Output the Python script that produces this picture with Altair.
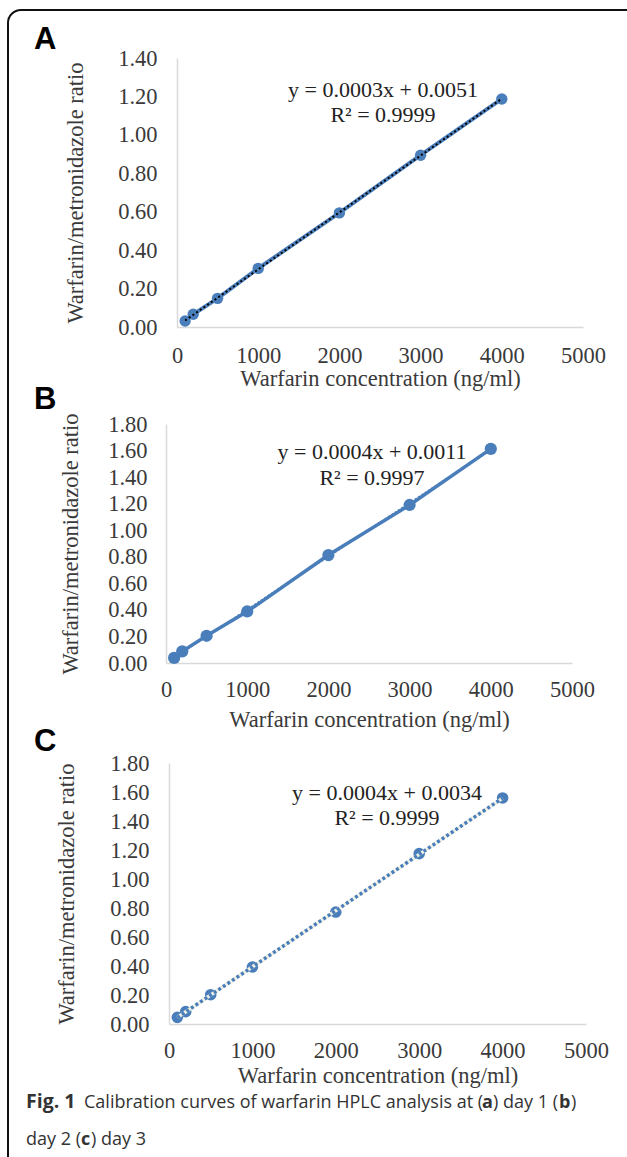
import altair as alt
import pandas as pd

# ---- data ----
conc = [100, 200, 500, 1000, 2000, 3000, 4000]
ratio_a = [0.031, 0.066, 0.149, 0.305, 0.594, 0.894, 1.187]
ratio_b = [0.038, 0.088, 0.205, 0.388, 0.813, 1.190, 1.613]
ratio_c = [0.046, 0.085, 0.202, 0.393, 0.772, 1.175, 1.559]
x_ticks = [0, 1000, 2000, 3000, 4000, 5000]
y_ticks_a = [0, 0.2, 0.4, 0.6, 0.8, 1.0, 1.2, 1.4]
y_ticks_bc = [0, 0.2, 0.4, 0.6, 0.8, 1.0, 1.2, 1.4, 1.6, 1.8]
eq_a = ["y = 0.0003x + 0.0051", "R² = 0.9999"]
eq_b = ["y = 0.0004x + 0.0011", "R² = 0.9997"]
eq_c = ["y = 0.0004x + 0.0034", "R² = 0.9999"]

W, H = 627, 1157
BLUE = "#4a7ebb"
GREY = "#3a3a3a"
SERIF = "Liberation Serif"
FS = 22.5
ONE = alt.Data(values=[{}])


def encodings(xr, yr, ymax, yticks, lab_pad_x, title_y, lab_pad_y, title_x):
    x = alt.X(
        "conc:Q",
        scale=alt.Scale(domain=[0, 5000], range=xr, nice=False, zero=False),
        axis=alt.Axis(
            orient="bottom", offset=yr[0] - H, values=x_ticks, format="d",
            grid=False, ticks=False, domainColor="#d9d9d9", domainWidth=1.5,
            labelFont=SERIF, labelFontSize=FS, labelColor=GREY,
            labelBaseline="alphabetic", labelPadding=lab_pad_x,
            labelFlush=False, labelOverlap=False,
            title="Warfarin concentration (ng/ml)", titleFont=SERIF,
            titleFontSize=FS, titleFontWeight="normal", titleColor=GREY,
            titleBaseline="alphabetic", titleY=title_y,
        ),
    )
    y = alt.Y(
        "ratio:Q",
        scale=alt.Scale(domain=[0, ymax], range=yr, nice=False, zero=False),
        axis=alt.Axis(
            orient="left", offset=-xr[0], values=yticks, format=".2f",
            grid=False, ticks=False, domainColor="#d9d9d9", domainWidth=1.5,
            labelFont=SERIF, labelFontSize=FS, labelColor=GREY,
            labelPadding=lab_pad_y, labelOverlap=False, labelFlush=False,
            title="Warfarin/metronidazole ratio", titleFont=SERIF,
            titleFontSize=FS, titleFontWeight="normal", titleColor=GREY,
            titleX=title_x - xr[0], titleY=(yr[0] + yr[1]) / 2,
            titleBaseline="middle", titleAngle=270,
        ),
    )
    return x, y


def equation(lines, cx, cy1, cy2):
    return [
        alt.Chart(ONE).mark_text(font=SERIF, fontSize=22, color="#222222",
                                 align="center", baseline="middle")
        .encode(x=alt.value(cx), y=alt.value(cy), text=alt.value(t))
        for t, cy in zip(lines, [cy1, cy2])
    ]


# ---- Panel A ----
df_a = pd.DataFrame({"conc": conc, "ratio": ratio_a})
xa, ya = encodings([177, 583], [327, 58], 1.4, y_ticks_a, 35, 58, 20, 75)
base_a = alt.Chart(df_a)
line_a = base_a.mark_line(color=BLUE, strokeWidth=4).encode(x=xa, y=ya)
pts_a = base_a.mark_circle(color=BLUE, size=130, opacity=1).encode(x=xa, y=ya)
trend_a = base_a.transform_regression("conc", "ratio").mark_line(
    color="black", strokeWidth=2, strokeDash=[2, 2.5]).encode(x=xa, y=ya)
panel_a = alt.layer(line_a, pts_a, trend_a, *equation(eq_a, 383, 90, 115))

# ---- Panel B ----
df_b = pd.DataFrame({"conc": conc, "ratio": ratio_b})
xb, yb = encodings([166, 572], [663, 424], 1.8, y_ticks_bc, 33, 63, 19, 70)
base_b = alt.Chart(df_b)
trend_b = base_b.transform_regression("conc", "ratio").mark_line(
    color=BLUE, strokeWidth=2, strokeDash=[2, 2]).encode(x=xb, y=yb)
line_b = base_b.mark_line(color=BLUE, strokeWidth=3.5).encode(x=xb, y=yb)
pts_b = base_b.mark_circle(color=BLUE, size=150, opacity=1).encode(x=xb, y=yb)
panel_b = alt.layer(trend_b, line_b, pts_b, *equation(eq_b, 372, 452, 478))

# ---- Panel C ----
df_c = pd.DataFrame({"conc": conc, "ratio": ratio_c})
xc, yc = encodings([169, 586], [1024, 763], 1.8, y_ticks_bc, 33, 58, 20, 66)
base_c = alt.Chart(df_c)
pts_c = base_c.mark_circle(color=BLUE, size=135, opacity=1).encode(x=xc, y=yc)
trend_c_bg = base_c.transform_regression("conc", "ratio").mark_line(
    color="#eef0e4", strokeWidth=3.5).encode(x=xc, y=yc)
trend_c = base_c.transform_regression("conc", "ratio").mark_line(
    color=BLUE, strokeWidth=3.5, strokeDash=[3, 2.5]).encode(x=xc, y=yc)
panel_c = alt.layer(pts_c, trend_c_bg, trend_c, *equation(eq_c, 387, 793, 818))

# ---- decorations: frame, panel letters, caption ----
frame = alt.Chart(ONE).mark_rect(
    cornerRadius=13, fillOpacity=0, stroke="#111111", strokeWidth=2
).encode(x=alt.value(8), y=alt.value(10), x2=alt.value(680), y2=alt.value(1250))


def letter(t, cy):
    return alt.Chart(ONE).mark_text(
        font="Liberation Sans", fontSize=31, fontWeight="bold", color="black",
        align="left", baseline="middle"
    ).encode(x=alt.value(34), y=alt.value(cy), text=alt.value(t))


CAP = "Open Sans"


def cap(t, x, y, bold=False, size=18):
    return alt.Chart(ONE).mark_text(
        font=CAP, fontSize=size, fontWeight="bold" if bold else "normal",
        color="#333333", align="left", baseline="alphabetic"
    ).encode(x=alt.value(x), y=alt.value(y), text=alt.value(t))


caption = [
    cap("Fig. 1", 26, 1108, True, 19.5),
    cap("Calibration curves of warfarin HPLC analysis at (", 84, 1108),
    cap("a", 482, 1108, True),
    cap(") day 1 (", 493, 1108),
    cap("b", 559, 1108, True),
    cap(")", 571, 1108),
    cap("day 2 (", 26, 1145),
    cap("c", 81, 1145, True),
    cap(") day 3", 91, 1145),
]

deco = alt.layer(frame, letter("A", 40), letter("B", 400), letter("C", 742), *caption)

chart = alt.layer(panel_a, panel_b, panel_c, deco).resolve_scale(
    x="independent", y="independent"
).resolve_axis(x="independent", y="independent").properties(
    width=W, height=H, padding=0,
    autosize=alt.AutoSizeParams(type="none"),
).configure_view(stroke=None)

chart.save("out.html", embed_options={"renderer": "svg", "actions": False})
